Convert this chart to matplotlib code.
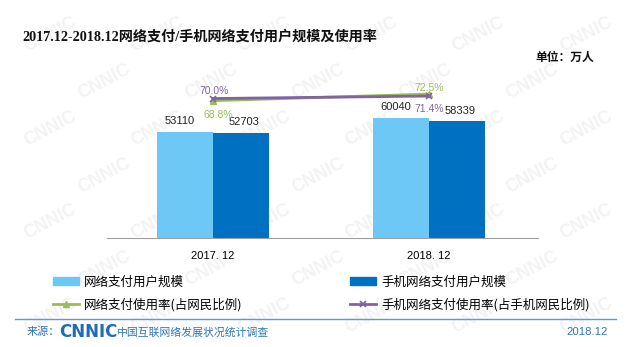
import matplotlib
matplotlib.use("Agg")
import matplotlib.pyplot as plt
import numpy as np
from matplotlib.lines import Line2D
from matplotlib.patches import Patch

plt.rcParams['font.family'] = ['Liberation Sans', 'Noto Sans CJK SC', 'DejaVu Sans']

periods = ["2017. 12", "2018. 12"]
pay_users = [53110, 60040]
mobile_pay_users = [52703, 58339]
pay_rate = [68.8, 72.5]
mobile_pay_rate = [70.0, 71.4]

light_blue = "#6ec8f5"
dark_blue = "#0070c0"
green = "#9bbb59"
purple = "#8064a2"

fig = plt.figure(figsize=(6.3, 3.47), dpi=100)
fig.patch.set_facecolor("white")

# faint CNNIC watermark tiled over the page
for row in range(7):
    for col in range(6):
        wx = 0.08 + col * 0.17 + (row % 2) * 0.085
        wy = 0.9 - row * 0.135
        if wx > 0.93:
            continue
        fig.text(wx, wy, "CNNIC", color="#f3f3f3", fontsize=13, fontweight="bold",
                 rotation=28, ha="center", va="center", zorder=-5)

ax = fig.add_axes([0.170, 0.314, 0.684, 0.484])
ax.patch.set_alpha(0)

x = np.arange(len(periods))
w = 0.26
ax.bar(x - w / 2, pay_users, w, color=light_blue, label="网络支付用户规模", zorder=2)
ax.bar(x + w / 2, mobile_pay_users, w, color=dark_blue, label="手机网络支付用户规模", zorder=2)

for xi, v in zip(x - w / 2, pay_users):
    ax.annotate(str(v), (xi, v), xytext=(-4, 4), textcoords="offset points",
                ha="center", va="bottom", fontsize=8, color="#222222")
for xi, v in zip(x + w / 2, mobile_pay_users):
    ax.annotate(str(v), (xi, v), xytext=(2, 4), textcoords="offset points",
                ha="center", va="bottom", fontsize=8, color="#222222")

ax.set_xlim(-0.49, 1.505)
ax.set_ylim(0, 84000)
ax.set_xticks(x)
ax.set_xticklabels(periods, fontsize=8)
ax.tick_params(axis="x", length=0, pad=9)
ax.set_yticks([])
for s in ["left", "right", "top"]:
    ax.spines[s].set_visible(False)
ax.spines["bottom"].set_color("#a0a0a0")

ax2 = ax.twinx()
ax2.set_ylim(-7.96, 85.9)
ax2.axis("off")
ax2.plot(x, pay_rate, color=green, lw=2, marker="^", ms=5, label="网络支付使用率(占网民比例)")
ax2.plot(x, mobile_pay_rate, color=purple, lw=2, marker="x", ms=5, mew=1.2,
         label="手机网络支付使用率(占手机网民比例)")

ax2.annotate(f"{pay_rate[0]}%", (x[0], pay_rate[0]), xytext=(4, -7), textcoords="offset points",
             ha="center", va="top", fontsize=7.5, color=green)
ax2.annotate(f"{pay_rate[1]}%", (x[1], pay_rate[1]), xytext=(0, 1), textcoords="offset points",
             ha="center", va="bottom", fontsize=7.5, color=green)
ax2.annotate(f"{mobile_pay_rate[0]:.1f}%", (x[0], mobile_pay_rate[0]), xytext=(1, 2),
             textcoords="offset points", ha="center", va="bottom", fontsize=7.5, color=purple)
ax2.annotate(f"{mobile_pay_rate[1]}%", (x[1], mobile_pay_rate[1]), xytext=(0, -6),
             textcoords="offset points", ha="center", va="top", fontsize=7.5, color=purple)

handles = [
    Patch(color=light_blue),
    Line2D([], [], color=green, lw=2, marker="^", ms=5),
    Patch(color=dark_blue),
    Line2D([], [], color=purple, lw=2, marker="x", ms=5, mew=1.2),
]
labels = ["网络支付用户规模", "网络支付使用率(占网民比例)",
          "手机网络支付用户规模", "手机网络支付使用率(占手机网民比例)"]
fig.legend(handles, labels, ncol=2, loc="upper left", bbox_to_anchor=(0.074, 0.224),
           frameon=False, handlelength=2.1, handleheight=0.6,
           handletextpad=0.4, columnspacing=8.6, labelspacing=0.75, borderpad=0,
           prop={"family": ["Noto Sans CJK SC"], "size": 9})

fig.text(0.035, 0.895, "2017.12-2018.12网络支付/手机网络支付用户规模及使用率",
         family=["Liberation Serif", "Noto Sans CJK SC"], fontsize=10.2, fontweight="bold",
         va="center", color="#111111")
fig.text(0.943, 0.836, "单位：万人", family=["Noto Sans CJK SC"], fontsize=8.5,
         fontweight="bold", ha="right", va="center", color="#111111")

fig.add_artist(Line2D([0.024, 0.978], [0.081, 0.081], color="#5b9bd5", lw=1))
fig.text(0.043, 0.043, "来源：", family=["Noto Sans CJK SC"], fontsize=8, color="#2e75b6",
         va="center")
fig.text(0.094, 0.043, "CNNIC", fontsize=12, fontweight="heavy", color="#1f6db5",
         family=["DejaVu Sans"], va="center")
fig.text(0.186, 0.043, "中国互联网络发展状况统计调查", family=["Noto Sans CJK SC"],
         fontsize=7.8, color="#2e75b6", va="center")
fig.text(0.965, 0.043, "2018.12", fontsize=8.2, color="#2e75b6", ha="right", va="center")

fig.savefig("out.png", dpi=100)
